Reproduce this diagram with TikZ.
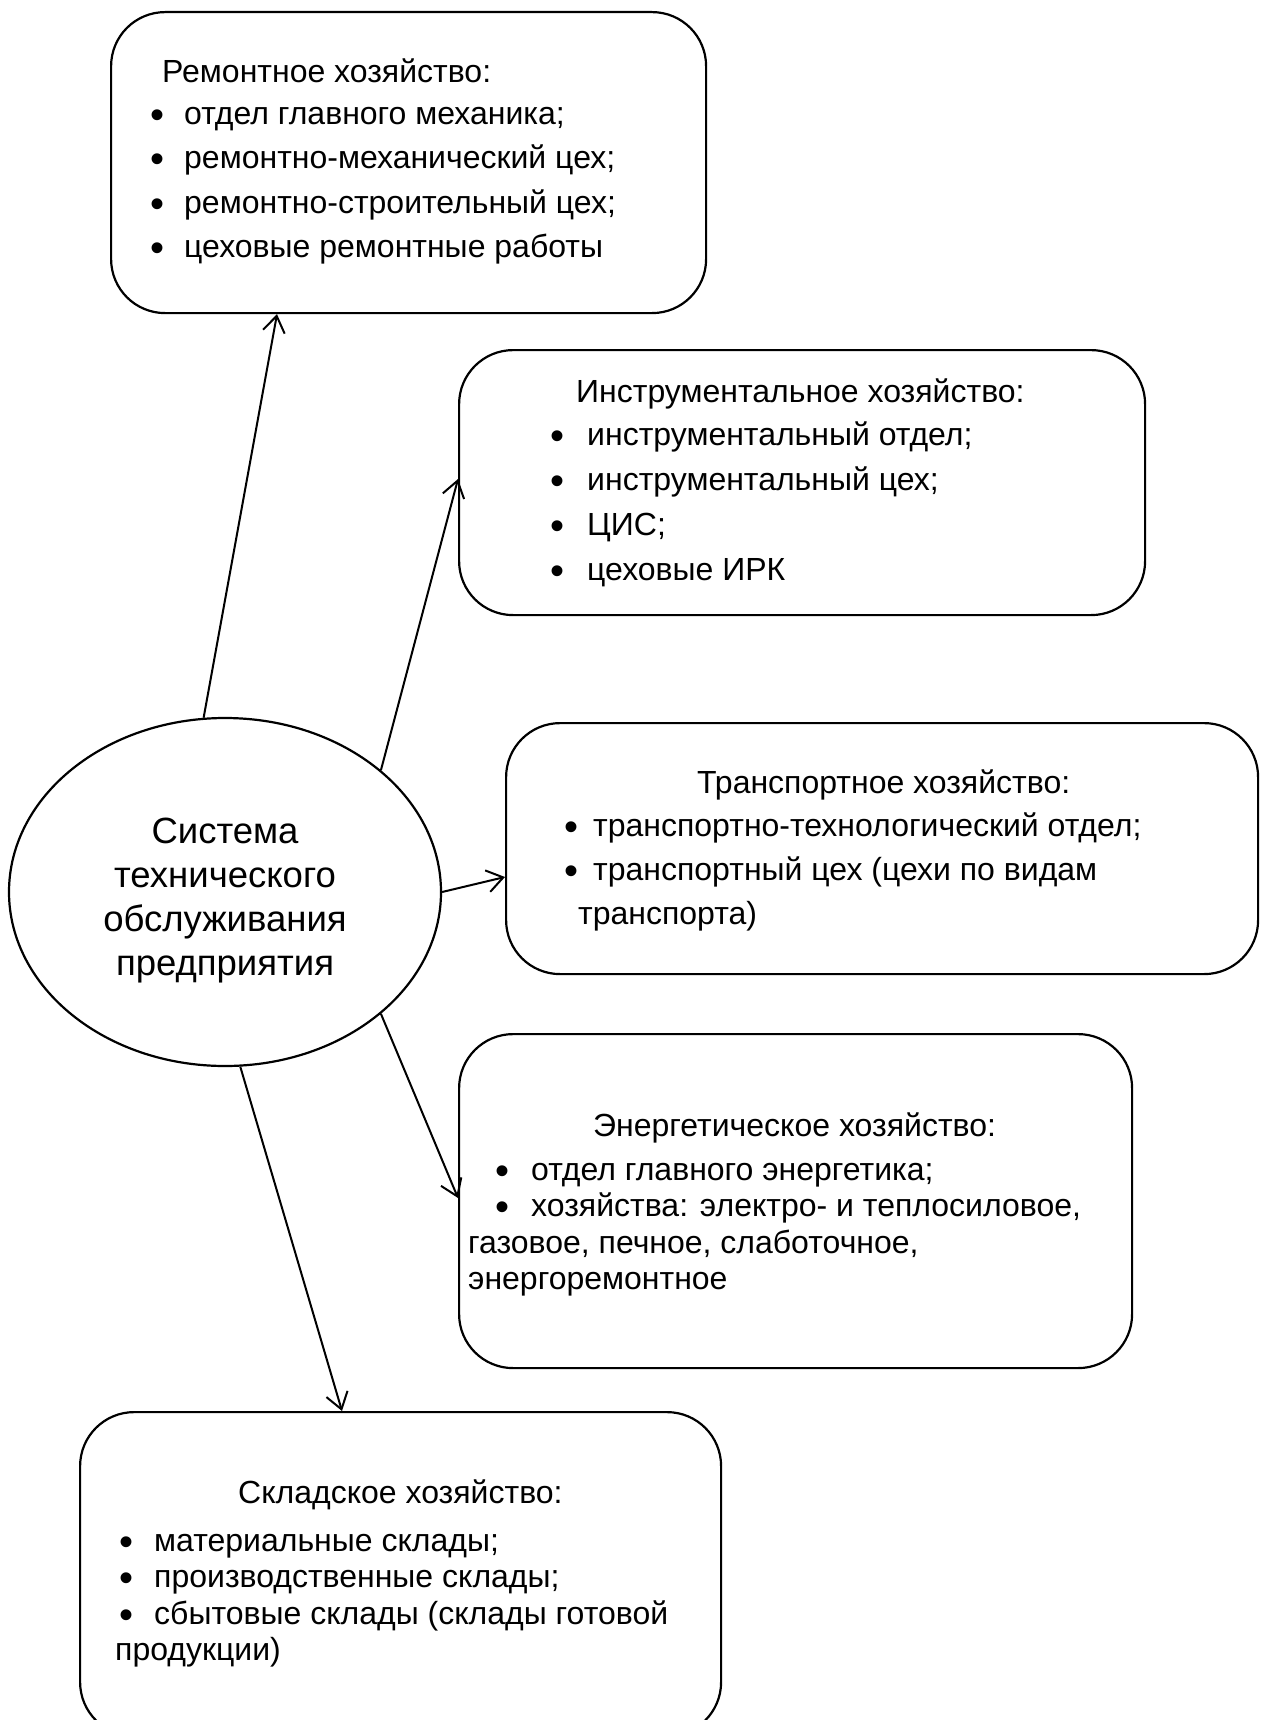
\documentclass[tikz,border=0pt]{standalone}
\usepackage{fontspec}
\setmainfont{Liberation Sans}
\usetikzlibrary{shapes.geometric,arrows.meta}

\newcommand{\pkt}[1]{\makebox[#1][l]{\raisebox{-4pt}{\fontsize{40}{0}\selectfont\textbullet}}}

\begin{document}
\begin{tikzpicture}[x=1pt,y=-1pt,
    hozbox/.style={draw, line width=2.2pt, rounded corners=54pt, anchor=north west, inner sep=0pt},
    sysell/.style={draw, ellipse, line width=2.2pt, inner sep=0pt},
    systxt/.style={inner sep=0pt, align=center, font=\fontsize{36.5}{44}\selectfont},
    titel/.style={anchor=north west, inner sep=0pt, font=\fontsize{32}{44}\selectfont},
    liste/.style={anchor=north west, inner sep=0pt, align=left, font=\fontsize{32}{44.5}\selectfont},
    pfeil/.style={-{Straight Barb[length=16pt,width=22pt,line width=2pt]}, line width=2pt}]
    \useasboundingbox (0,0) rectangle (1261,1720);

    % Zentrum
    \node[sysell, minimum width=432pt, minimum height=348pt] (sys) at (225,892) {};
    \node[systxt] (systx) at (225,901)
      {Система\\технического\\обслуживания\\предприятия};

    % Ремонтное хозяйство
    \node[hozbox, minimum width=595pt, minimum height=301pt] (rem) at (110,11) {};
    \node[titel] (remt) at (162,59) {Ремонтное хозяйство:};
    \node[liste] (reml) at (150,107) {\pkt{34pt}отдел главного механика;\\
      \pkt{34pt}ремонтно-механический цех;\\
      \pkt{34pt}ремонтно-строительный цех;\\
      \pkt{34pt}цеховые ремонтные работы};

    % Инструментальное хозяйство
    \node[hozbox, minimum width=686pt, minimum height=265pt] (ins) at (458,349) {};
    \node[titel] (inst) at (576,379) {Инструментальное хозяйство:};
    \node[liste, font=\fontsize{32}{45}\selectfont] (insl) at (550,422)
      {\pkt{37pt}инструментальный отдел;\\
      \pkt{37pt}инструментальный цех;\\
      \pkt{37pt}ЦИС;\\
      \pkt{37pt}цеховые ИРК};

    % Транспортное хозяйство
    \node[hozbox, minimum width=752pt, minimum height=251pt] (tra) at (505,722) {};
    \node[titel] (trat) at (697,770) {Транспортное хозяйство:};
    \node[liste, font=\fontsize{32}{44}\selectfont] (tral) at (564,813)
      {\pkt{29pt}транспортно-технологический отдел;\\
      \pkt{29pt}транспортный цех (цехи по видам\\
      \hspace*{14pt}транспорта)};

    % Энергетическое хозяйство
    \node[hozbox, minimum width=673pt, minimum height=334pt] (ene) at (458,1033) {};
    \node[titel] (enet) at (593,1113) {Энергетическое хозяйство:};
    \node[liste, font=\fontsize{32}{36.3}\selectfont] (enel) at (468,1163)
      {\hspace*{27pt}\pkt{36pt}отдел главного энергетика;\\
      \hspace*{27pt}\pkt{36pt}хозяйства: электро- и теплосиловое,\\
      газовое, печное, слаботочное,\\
      энергоремонтное};

    % Складское хозяйство
    \node[hozbox, minimum width=641pt, minimum height=324pt] (skl) at (79,1411) {};
    \node[titel] (sklt) at (238,1480) {Складское хозяйство:};
    \node[liste, font=\fontsize{32}{36.5}\selectfont] (skll) at (115,1534)
      {\hspace*{4pt}\pkt{35pt}материальные склады;\\
      \hspace*{4pt}\pkt{35pt}производственные склады;\\
      \hspace*{4pt}\pkt{35pt}сбытовые склады (склады готовой\\
      продукции)};

    % Pfeile
    \draw[pfeil] (sys.97) -- ([xshift=167pt]rem.south west);
    \draw[pfeil] (sys.38) -- ([yshift=-130pt]ins.north west);
    \draw[pfeil] (sys.0) -- ([yshift=-155pt]tra.north west);
    \draw[pfeil] (sys.-38) -- ([yshift=-165pt]ene.north west);
    \draw[pfeil] (sys.-85) -- ([xshift=263pt]skl.north west);
\end{tikzpicture}
\end{document}
